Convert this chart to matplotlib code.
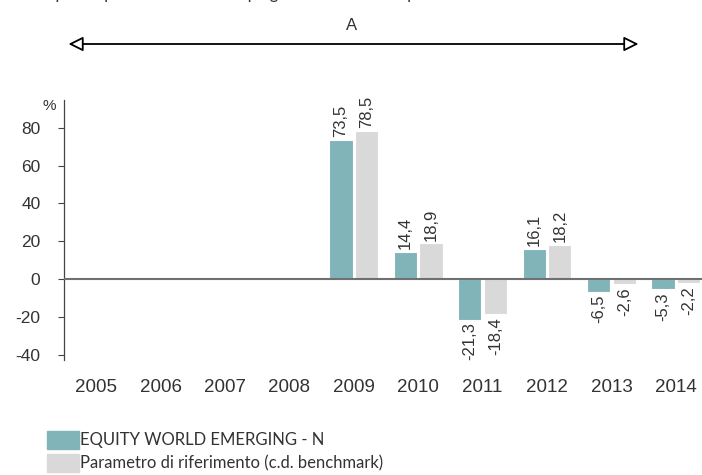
import numpy as np
import matplotlib
matplotlib.use("Agg")
import matplotlib.pyplot as plt

# Data
years = ["2005", "2006", "2007", "2008", "2009", "2010", "2011", "2012", "2013", "2014"]
fund = [None, None, None, None, 73.5, 14.4, -21.3, 16.1, -6.5, -5.3]
benchmark = [None, None, None, None, 78.5, 18.9, -18.4, 18.2, -2.6, -2.2]
yticks = [-40, -20, 0, 20, 40, 60, 80]
series_names = ["EQUITY WORLD EMERGING - N", "Parametro di riferimento (c.d. benchmark)"]
period_label = "A"
note_text = "questo periodo il fondo in quegli anni il fondo ha presentato caratteristiche diverse"

TEAL = "#80b4b9"
GREY = "#d9d9d9"
TEXT = "#333333"
SANS = ["Liberation Sans", "DejaVu Sans"]

W, H = 702, 475
fig = plt.figure(figsize=(W / 100, H / 100), dpi=100)
ax = fig.add_axes([64 / W, 115 / H, 644 / W, 260 / H])

x = np.arange(len(years))
bw = 0.36
off = 0.2


def fmt(v):
    return f"{v:.1f}".replace(".", ",")


for vals, color, sign in [(fund, TEAL, -1), (benchmark, GREY, 1)]:
    for xi, v in zip(x, vals):
        if v is None:
            continue
        ax.bar(xi + sign * off, v, width=bw, color=color, edgecolor="white", linewidth=0.8, zorder=2)
        pad = 1.5 if v >= 0 else -1.5
        ax.text(xi + sign * off, v + pad, fmt(v), rotation=90, ha="center",
                va="bottom" if v >= 0 else "top", fontsize=12, color=TEXT, family=SANS)

ax.axhline(0, color="#707070", linewidth=1.5, zorder=3)

ax.set_xlim(-0.5, len(years) - 0.5)
ax.set_ylim(-42.6, 94.6)
ax.set_xticks(x)
ax.set_xticklabels(years, family=SANS, fontsize=13.5, color=TEXT)
ax.tick_params(axis="x", length=0, pad=14)
ax.set_yticks(yticks)
ax.set_yticklabels([str(t) for t in yticks], fontsize=12.5, color=TEXT, family=SANS)
ax.tick_params(axis="y", length=4, width=0.8, color="#444444", pad=13)

for s in ["top", "right", "bottom"]:
    ax.spines[s].set_visible(False)
ax.spines["left"].set_color("#444444")
ax.spines["left"].set_linewidth(0.9)

ax.text(-0.023, 0.977, "%", transform=ax.transAxes, fontsize=11, color=TEXT,
        ha="center", va="center", family=SANS)

# period arrow and label above the chart
ax.annotate("", xy=(-0.43, 1 - 44 / H), xytext=(8.42, 1 - 44 / H),
            xycoords=("data", "figure fraction"), textcoords=("data", "figure fraction"),
            arrowprops=dict(arrowstyle="<|-|>", fc="white", ec="black", lw=1.3,
                            mutation_scale=22, shrinkA=0, shrinkB=0))

fig.text(352 / W, 1 - 25 / H, period_label, ha="center", va="center", fontsize=12,
         color=TEXT, family=SANS)
# note line, cut off at the top edge as in the reference
fig.text(351 / W, 1 + 6.5 / H, note_text, ha="center", va="center", fontsize=12,
         color=TEXT, family="Lato")

handles = [plt.Rectangle((0, 0), 1, 1, color=TEAL), plt.Rectangle((0, 0), 1, 1, color=GREY)]
fig.legend(handles, series_names, loc="upper left", bbox_to_anchor=(47 / W, 1 - 431 / H),
           frameon=False, prop={"family": "Lato", "size": 12}, handlelength=1.9,
           handleheight=1.25, handletextpad=0.05, labelspacing=0.35, borderpad=0,
           borderaxespad=0, labelcolor=TEXT)

fig.savefig("out.png", dpi=100)
